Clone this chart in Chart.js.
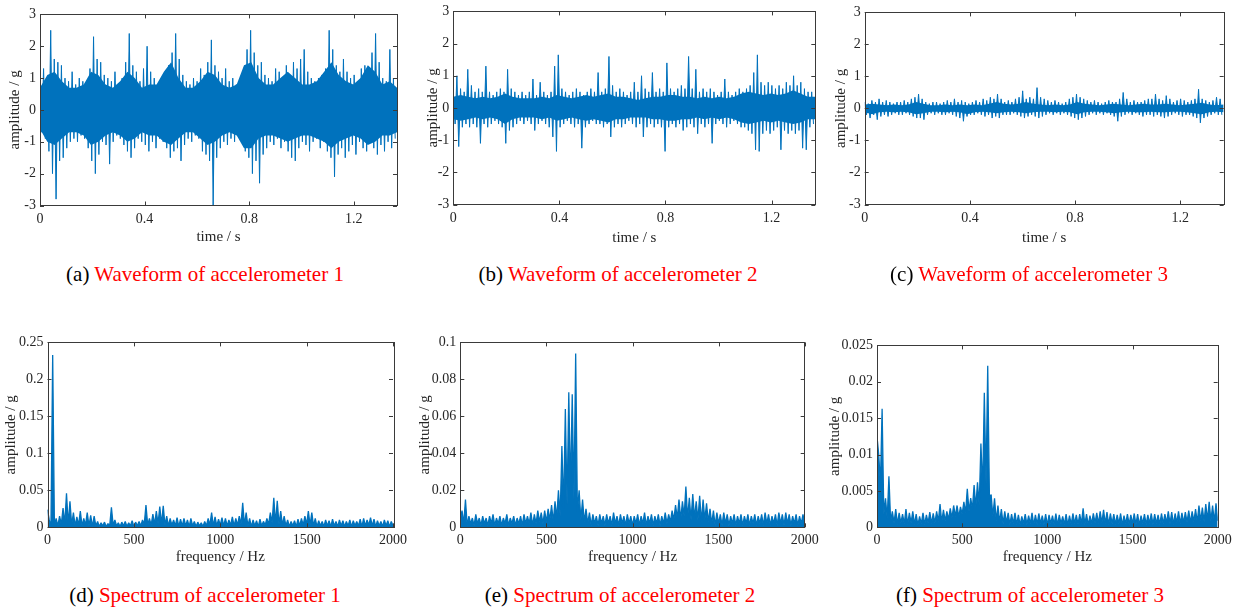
<!DOCTYPE html>
<html>
<head>
<meta charset="utf-8">
<script src="https://cdn.jsdelivr.net/npm/chart.js@4.4.0/dist/chart.umd.min.js"></script>
<style>
html, body { margin: 0; padding: 0; background: #fff; }
body { width: 1242px; height: 612px; overflow: hidden; position: relative; font-family: 'Liberation Serif', serif; }
canvas { position: absolute; }
.cap { position: absolute; font-size: 21px; white-space: nowrap; transform: translate(-50%, -50%); color: #000; }
.cap span { color: #f00; }
</style>
</head>
<body>
<script>
// time axis / frequency axis
const timeMax = 1.365;
const timeTicks = [0, 0.4, 0.8, 1.2];
const ampTicks = [-3, -2, -1, 0, 1, 2, 3];
const freqMax = 2000;
const freqTicks = [0, 500, 1000, 1500, 2000];
const spec1Ticks = [0, 0.05, 0.1, 0.15, 0.2, 0.25];
const spec2Ticks = [0, 0.02, 0.04, 0.06, 0.08, 0.1];
const spec3Ticks = [0, 0.005, 0.01, 0.015, 0.02, 0.025];

// waveform peaks (100 steps over the record)
const wave1Upper = [
  0.8, 1.3, 0.9, 2.5, 1.6, 1.5, 1.4, 1.0, 0.9, 1.2,
  0.8, 1.0, 0.9, 0.8, 1.3, 2.3, 1.6, 1.5, 1.1, 1.0,
  0.9, 1.2, 0.8, 1.0, 1.5, 2.4, 1.4, 1.2, 0.9, 1.3,
  2.0, 1.2, 1.0, 0.8, 0.9, 1.1, 1.4, 1.8, 2.4, 1.6,
  1.1, 0.9, 0.8, 1.0, 0.9, 1.3, 1.1, 1.5, 2.2, 1.4,
  1.2, 1.0, 1.3, 0.9, 1.0, 0.8, 0.9, 1.2, 1.9, 2.5,
  1.8, 1.4, 1.5, 1.1, 1.0, 0.9, 1.3, 1.2, 1.0, 1.4,
  1.1, 1.5, 1.3, 1.6, 1.9, 1.2, 1.0, 0.9, 1.0, 1.1,
  1.3, 2.5, 1.9, 1.4, 1.2, 1.6, 1.2, 1.0, 1.1, 0.9,
  1.3, 1.4, 1.2, 1.8, 2.4, 1.5, 1.0, 0.9, 1.9, 1.0
];
const wave1Lower = [
  -0.7, -0.9, -1.3, -2.0, -2.8, -1.6, -1.5, -1.2, -1.0, -0.9,
  -1.0, -0.8, -0.9, -1.2, -1.6, -2.0, -1.4, -1.0, -1.1, -1.7,
  -1.0, -0.8, -0.9, -1.1, -1.3, -1.5, -1.2, -0.9, -1.0, -1.1,
  -1.3, -1.0, -1.2, -0.9, -1.0, -1.2, -1.5, -1.3, -1.2, -1.6,
  -1.1, -0.9, -1.0, -0.8, -0.9, -1.3, -1.4, -1.6, -3.0, -1.5,
  -1.2, -1.0, -1.1, -0.9, -1.0, -0.8, -1.0, -1.3, -1.5, -2.0,
  -1.6, -2.3, -1.4, -1.2, -1.0, -1.1, -0.9, -1.2, -1.0, -1.3,
  -1.5, -1.6, -1.2, -1.0, -1.1, -1.3, -1.0, -0.9, -1.2, -1.0,
  -1.3, -1.5, -2.1, -1.4, -1.2, -1.5, -1.3, -1.1, -1.4, -1.0,
  -1.2, -1.3, -1.0, -1.2, -1.4, -1.1, -1.3, -1.0, -1.2, -0.9
];
const wave2Upper = [
  0.5, 1.0, 0.6, 0.5, 1.2, 0.7, 0.5, 0.6, 0.5, 1.3,
  0.5, 0.4, 0.5, 0.6, 0.5, 1.2, 0.6, 0.5, 0.4, 0.5,
  0.4, 0.5, 0.9, 0.4, 0.8, 0.5, 0.4, 0.5, 1.3, 1.65,
  0.6, 0.5, 0.4, 0.5, 0.6, 0.5, 0.4, 0.5, 0.6, 0.5,
  1.1, 0.5, 0.6, 1.6, 0.7, 0.5, 0.6, 0.5, 0.4, 0.5,
  0.8, 0.5, 1.0, 0.6, 0.5, 1.1, 0.5, 0.6, 0.5, 1.4,
  0.6, 0.5, 0.6, 0.7, 0.6, 1.6, 0.6, 1.2, 0.5, 0.6,
  0.5, 0.6, 0.5, 0.4, 0.5, 0.9, 0.5, 0.4, 0.5, 0.6,
  0.5, 0.6, 0.7, 1.1, 1.65, 0.8, 0.7, 0.8, 0.7, 0.6,
  0.7, 0.6, 0.8, 0.7, 1.0, 0.7, 0.8, 0.6, 0.5, 0.5
];
const wave2Lower = [
  -0.5, -1.2, -0.6, -0.5, -0.6, -0.5, -0.6, -1.1, -0.5, -0.6,
  -0.5, -0.4, -0.5, -0.6, -1.1, -0.7, -0.6, -0.5, -0.4, -0.5,
  -0.4, -0.5, -0.7, -0.5, -0.4, -0.5, -0.6, -0.9, -1.35, -0.6,
  -0.5, -0.4, -0.5, -0.6, -0.5, -1.25, -0.6, -0.5, -0.4, -0.5,
  -0.5, -0.6, -0.5, -0.9, -0.6, -0.5, -0.6, -0.5, -0.4, -0.5,
  -0.6, -0.5, -0.9, -0.6, -0.5, -0.6, -0.5, -0.6, -1.35, -0.6,
  -0.5, -0.6, -0.5, -0.7, -0.6, -0.5, -0.6, -0.8, -0.5, -0.6,
  -0.5, -1.1, -0.5, -0.4, -0.5, -0.6, -0.5, -0.4, -0.5, -0.6,
  -0.6, -0.7, -0.8, -1.3, -1.35, -0.8, -0.7, -0.8, -0.7, -0.6,
  -1.3, -0.7, -0.8, -0.7, -0.8, -0.7, -1.25, -1.3, -0.6, -0.5
];
const wave3Upper = [
  0.2, 0.15, 0.25, 0.2, 0.3, 0.2, 0.25, 0.2, 0.15, 0.2,
  0.2, 0.25, 0.2, 0.3, 0.35, 0.45, 0.3, 0.2, 0.15, 0.2,
  0.2, 0.15, 0.2, 0.25, 0.2, 0.3, 0.2, 0.25, 0.2, 0.15,
  0.2, 0.25, 0.2, 0.3, 0.25, 0.35, 0.3, 0.45, 0.3, 0.2,
  0.25, 0.2, 0.3, 0.35, 0.55, 0.3, 0.35, 0.3, 0.65, 0.35,
  0.3, 0.25, 0.2, 0.25, 0.2, 0.15, 0.2, 0.3, 0.35, 0.45,
  0.35, 0.3, 0.25, 0.2, 0.25, 0.2, 0.15, 0.2, 0.25, 0.2,
  0.2, 0.3, 0.5, 0.3, 0.2, 0.25, 0.2, 0.2, 0.25, 0.3,
  0.3, 0.45, 0.3, 0.25, 0.4, 0.3, 0.2, 0.25, 0.3, 0.25,
  0.2, 0.25, 0.3, 0.6, 0.3, 0.25, 0.2, 0.25, 0.35, 0.3
];
const wave3Lower = [
  -0.2, -0.3, -0.2, -0.35, -0.25, -0.2, -0.25, -0.2, -0.15, -0.2,
  -0.2, -0.15, -0.2, -0.25, -0.3, -0.3, -0.35, -0.2, -0.15, -0.2,
  -0.15, -0.2, -0.2, -0.15, -0.2, -0.25, -0.3, -0.4, -0.25, -0.2,
  -0.2, -0.15, -0.2, -0.25, -0.2, -0.3, -0.25, -0.3, -0.2, -0.2,
  -0.2, -0.15, -0.2, -0.25, -0.3, -0.25, -0.2, -0.25, -0.3, -0.25,
  -0.2, -0.15, -0.2, -0.15, -0.2, -0.15, -0.2, -0.25, -0.3, -0.35,
  -0.3, -0.25, -0.2, -0.15, -0.2, -0.15, -0.2, -0.15, -0.2, -0.25,
  -0.4, -0.25, -0.2, -0.15, -0.2, -0.15, -0.2, -0.25, -0.2, -0.2,
  -0.25, -0.2, -0.25, -0.3, -0.25, -0.2, -0.15, -0.2, -0.25, -0.2,
  -0.2, -0.25, -0.3, -0.45, -0.3, -0.25, -0.2, -0.15, -0.2, -0.2
];

// dense dark core of each waveform (50 readings across the record)
const core1Upper = [
  0.7, 1.1, 1.2, 0.9, 0.7, 0.7, 0.8, 1.2, 1.1, 0.8,
  0.7, 0.9, 1.2, 1.0, 0.7, 0.8, 0.8, 1.2, 1.5, 1.0,
  0.7, 0.7, 0.9, 1.2, 1.1, 0.8, 0.7, 0.8, 1.4, 1.5,
  1.0, 0.8, 0.8, 1.0, 1.2, 1.0, 0.8, 0.8, 0.9, 1.2,
  1.5, 1.1, 0.9, 0.8, 1.0, 1.4, 1.2, 0.8, 0.9, 0.7
];
const core1Lower = [
  -0.6, -1.0, -1.1, -0.9, -0.7, -0.7, -0.8, -1.1, -1.0, -0.8,
  -0.7, -0.8, -1.0, -0.9, -0.7, -0.8, -0.8, -1.0, -1.1, -0.9,
  -0.7, -0.7, -0.9, -1.1, -1.0, -0.8, -0.7, -0.8, -1.2, -1.2,
  -0.9, -0.8, -0.8, -0.9, -1.0, -0.9, -0.8, -0.8, -0.9, -1.0,
  -1.2, -1.0, -0.9, -0.8, -0.9, -1.1, -1.0, -0.8, -0.8, -0.7
];
const core2Upper = [
  0.35, 0.4, 0.35, 0.3, 0.35, 0.3, 0.35, 0.45, 0.35, 0.3,
  0.3, 0.3, 0.35, 0.3, 0.4, 0.35, 0.3, 0.35, 0.4, 0.35,
  0.4, 0.45, 0.35, 0.35, 0.3, 0.25, 0.3, 0.35, 0.35, 0.4,
  0.4, 0.35, 0.35, 0.3, 0.35, 0.3, 0.35, 0.3, 0.35, 0.45,
  0.5, 0.45, 0.4, 0.45, 0.4, 0.45, 0.55, 0.45, 0.35, 0.35
];
const core2Lower = [
  -0.35, -0.4, -0.35, -0.3, -0.35, -0.3, -0.35, -0.5, -0.35, -0.3,
  -0.3, -0.3, -0.35, -0.3, -0.4, -0.35, -0.3, -0.35, -0.4, -0.35,
  -0.4, -0.45, -0.35, -0.35, -0.3, -0.3, -0.3, -0.35, -0.35, -0.4,
  -0.4, -0.35, -0.35, -0.3, -0.35, -0.3, -0.35, -0.3, -0.35, -0.45,
  -0.5, -0.45, -0.4, -0.45, -0.4, -0.45, -0.5, -0.45, -0.35, -0.35
];
const core3Upper = [
  0.12, 0.15, 0.12, 0.1, 0.12, 0.1, 0.12, 0.2, 0.15, 0.1,
  0.1, 0.12, 0.1, 0.12, 0.1, 0.12, 0.1, 0.15, 0.2, 0.15,
  0.12, 0.15, 0.2, 0.15, 0.12, 0.1, 0.12, 0.1, 0.12, 0.2,
  0.15, 0.12, 0.1, 0.12, 0.15, 0.12, 0.1, 0.12, 0.15, 0.12,
  0.12, 0.15, 0.12, 0.1, 0.12, 0.15, 0.18, 0.12, 0.1, 0.12
];
const core3Lower = [
  -0.12, -0.18, -0.12, -0.1, -0.12, -0.1, -0.12, -0.18, -0.15, -0.1,
  -0.1, -0.12, -0.1, -0.12, -0.18, -0.12, -0.1, -0.12, -0.15, -0.12,
  -0.1, -0.12, -0.15, -0.12, -0.1, -0.1, -0.12, -0.1, -0.12, -0.18,
  -0.12, -0.1, -0.1, -0.12, -0.15, -0.12, -0.1, -0.12, -0.12, -0.1,
  -0.12, -0.12, -0.1, -0.1, -0.12, -0.15, -0.18, -0.12, -0.1, -0.12
];

// spectrum peaks (at 10, 30, ... 1990 Hz) and floor (at 0, 20, ... 2000 Hz)
const spec1Peaks = [
  0.010, 0.233, 0.012, 0.015, 0.026, 0.046, 0.035, 0.020, 0.014, 0.022,
  0.012, 0.020, 0.016, 0.015, 0.008, 0.006, 0.007, 0.005, 0.027, 0.010,
  0.006, 0.007, 0.008, 0.006, 0.009, 0.007, 0.008, 0.010, 0.030, 0.012,
  0.018, 0.022, 0.028, 0.029, 0.015, 0.012, 0.010, 0.013, 0.011, 0.012,
  0.010, 0.012, 0.008, 0.007, 0.006, 0.008, 0.012, 0.020, 0.014, 0.011,
  0.013, 0.012, 0.010, 0.014, 0.012, 0.015, 0.033, 0.020, 0.012, 0.010,
  0.009, 0.011, 0.008, 0.012, 0.020, 0.040, 0.036, 0.022, 0.015, 0.010,
  0.008, 0.009, 0.011, 0.012, 0.015, 0.022, 0.020, 0.012, 0.009, 0.008,
  0.010, 0.009, 0.011, 0.008, 0.010, 0.009, 0.008, 0.010, 0.009, 0.008,
  0.011, 0.012, 0.010, 0.013, 0.011, 0.009, 0.008, 0.010, 0.009, 0.008
];
const spec1Floor = [
  0.024, 0.001, 0.003, 0.002, 0.004, 0.005, 0.004, 0.003, 0.002, 0.003,
  0.002, 0.003, 0.002, 0.001, 0.002, 0.001, 0.002, 0.001, 0.002, 0.003,
  0.002, 0.001, 0.002, 0.001, 0.002, 0.001, 0.002, 0.002, 0.004, 0.003,
  0.003, 0.004, 0.005, 0.004, 0.003, 0.002, 0.003, 0.002, 0.001, 0.002,
  0.002, 0.001, 0.002, 0.001, 0.002, 0.001, 0.002, 0.003, 0.002, 0.002,
  0.003, 0.002, 0.002, 0.003, 0.002, 0.003, 0.004, 0.003, 0.002, 0.001,
  0.002, 0.001, 0.002, 0.003, 0.004, 0.006, 0.005, 0.004, 0.003, 0.002,
  0.001, 0.002, 0.001, 0.002, 0.003, 0.004, 0.003, 0.002, 0.001, 0.002,
  0.001, 0.002, 0.001, 0.002, 0.001, 0.002, 0.001, 0.002, 0.001, 0.002,
  0.002, 0.001, 0.002, 0.003, 0.002, 0.001, 0.002, 0.001, 0.002, 0.001,
  0.002
];
const spec2Peaks = [
  0.009, 0.015, 0.006, 0.005, 0.007, 0.005, 0.006, 0.005, 0.006, 0.007,
  0.005, 0.006, 0.005, 0.007, 0.005, 0.006, 0.005, 0.006, 0.007, 0.006,
  0.008, 0.007, 0.009, 0.008, 0.009, 0.010, 0.012, 0.014, 0.020, 0.044,
  0.064, 0.073, 0.072, 0.094, 0.020, 0.015, 0.010, 0.008, 0.007, 0.006,
  0.007, 0.006, 0.007, 0.006, 0.008, 0.006, 0.007, 0.006, 0.007, 0.006,
  0.006, 0.007, 0.006, 0.008, 0.006, 0.007, 0.006, 0.007, 0.006, 0.008,
  0.007, 0.009, 0.012, 0.015, 0.014, 0.022, 0.016, 0.018, 0.014, 0.017,
  0.015, 0.013, 0.010, 0.009, 0.008, 0.007, 0.008, 0.007, 0.006, 0.007,
  0.006, 0.007, 0.006, 0.007, 0.006, 0.007, 0.006, 0.007, 0.008, 0.007,
  0.006, 0.007, 0.008, 0.007, 0.008, 0.007, 0.006, 0.007, 0.006, 0.007
];
const spec2Floor = [
  0.004, 0.002, 0.001, 0.002, 0.001, 0.002, 0.001, 0.002, 0.001, 0.002,
  0.001, 0.002, 0.001, 0.002, 0.001, 0.002, 0.001, 0.002, 0.001, 0.002,
  0.002, 0.001, 0.002, 0.003, 0.002, 0.003, 0.004, 0.003, 0.005, 0.006,
  0.010, 0.012, 0.020, 0.015, 0.008, 0.004, 0.003, 0.002, 0.001, 0.002,
  0.001, 0.002, 0.001, 0.002, 0.001, 0.002, 0.001, 0.002, 0.001, 0.002,
  0.001, 0.002, 0.001, 0.002, 0.001, 0.002, 0.001, 0.002, 0.001, 0.002,
  0.002, 0.003, 0.004, 0.005, 0.004, 0.006, 0.005, 0.004, 0.005, 0.004,
  0.003, 0.004, 0.003, 0.002, 0.001, 0.002, 0.001, 0.002, 0.001, 0.002,
  0.001, 0.002, 0.001, 0.002, 0.001, 0.002, 0.001, 0.002, 0.001, 0.002,
  0.001, 0.002, 0.001, 0.002, 0.001, 0.002, 0.001, 0.002, 0.001, 0.002,
  0.002
];
const spec3Peaks = [
  0.010, 0.0163, 0.004, 0.007, 0.0022, 0.0025, 0.002, 0.0018, 0.0025, 0.002,
  0.0022, 0.0018, 0.0015, 0.002, 0.0017, 0.0021, 0.0019, 0.0022, 0.0032, 0.0024,
  0.0022, 0.0026, 0.003, 0.003, 0.0028, 0.0035, 0.0053, 0.004, 0.0058, 0.0062,
  0.0115, 0.0185, 0.0222, 0.0045, 0.004, 0.003, 0.0025, 0.0022, 0.002, 0.0018,
  0.002, 0.0017, 0.0015, 0.0018, 0.0016, 0.002, 0.0017, 0.0019, 0.0016, 0.0018,
  0.0017, 0.0016, 0.0019, 0.0017, 0.0015, 0.0018, 0.0016, 0.0019, 0.0017, 0.0018,
  0.0026, 0.0018, 0.0016, 0.0019, 0.002, 0.0022, 0.0024, 0.0021, 0.0019, 0.0018,
  0.0017, 0.0019, 0.0016, 0.0018, 0.0017, 0.0019, 0.0018, 0.0016, 0.0018, 0.0017,
  0.0019, 0.0018, 0.0017, 0.0019, 0.0018, 0.0022, 0.0021, 0.0019, 0.0022, 0.002,
  0.0021, 0.0023, 0.0022, 0.0025, 0.003, 0.0027, 0.0032, 0.0035, 0.003, 0.0033
];
const spec3Floor = [
  0.0125, 0.006, 0.0018, 0.0012, 0.0008, 0.0006, 0.0004, 0.0006, 0.0005, 0.0004,
  0.0006, 0.0004, 0.0003, 0.0005, 0.0004, 0.0006, 0.0005, 0.0006, 0.0008, 0.0007,
  0.0009, 0.0011, 0.0013, 0.0015, 0.0014, 0.0018, 0.002, 0.0022, 0.0025, 0.0028,
  0.003, 0.005, 0.006, 0.004, 0.0015, 0.0009, 0.0007, 0.0005, 0.0006, 0.0004,
  0.0005, 0.0004, 0.0003, 0.0005, 0.0004, 0.0005, 0.0003, 0.0004, 0.0005, 0.0004,
  0.0003, 0.0005, 0.0004, 0.0003, 0.0005, 0.0004, 0.0003, 0.0004, 0.0005, 0.0004,
  0.0005, 0.0004, 0.0003, 0.0005, 0.0006, 0.0005, 0.0006, 0.0005, 0.0004, 0.0005,
  0.0004, 0.0005, 0.0003, 0.0005, 0.0004, 0.0005, 0.0004, 0.0003, 0.0005, 0.0004,
  0.0005, 0.0004, 0.0005, 0.0004, 0.0005, 0.0006, 0.0005, 0.0004, 0.0006, 0.0005,
  0.0006, 0.0007, 0.0006, 0.0008, 0.0007, 0.0009, 0.0008, 0.001, 0.0009, 0.0008,
  0.0009
];

const FONT = "'Liberation Serif', 'Times New Roman', serif";
const LINE = '#0072BD';
const AXIS = '#262626';

// alternate upper/lower readings along the axis
function zigzag(up, low, xMax) {
  const step = xMax / up.length;
  const pts = [];
  for (let i = 0; i < up.length; i++) {
    pts.push({ x: i * step, y: up[i] });
    pts.push({ x: (i + 0.5) * step, y: low[i] });
  }
  return pts;
}

function spectrum(peaks, floor, fMax) {
  const step = fMax / peaks.length;
  const pts = [];
  for (let i = 0; i < floor.length; i++) {
    pts.push({ x: i * step, y: floor[i] });
    if (i < peaks.length) pts.push({ x: (i + 0.5) * step, y: peaks[i] });
  }
  return pts;
}

function envelope(vals, xMax) {
  const step = xMax / (vals.length - 1);
  return vals.map((v, i) => ({ x: i * step, y: v }));
}

// MATLAB-like box with inward ticks on all four sides
const boxPlugin = {
  id: 'boxPlugin',
  afterDatasetsDraw(chart) {
    const { ctx, chartArea: a, scales } = chart;
    const len = 4;
    ctx.save();
    ctx.strokeStyle = '#3a3a3a';
    ctx.lineWidth = 1;
    ctx.beginPath();
    scales.x.ticks.forEach(t => {
      const px = Math.round(scales.x.getPixelForValue(t.value)) + 0.5;
      ctx.moveTo(px, a.bottom); ctx.lineTo(px, a.bottom - len);
      ctx.moveTo(px, a.top); ctx.lineTo(px, a.top + len);
    });
    scales.y.ticks.forEach(t => {
      const py = Math.round(scales.y.getPixelForValue(t.value)) + 0.5;
      ctx.moveTo(a.left, py); ctx.lineTo(a.left + len, py);
      ctx.moveTo(a.right, py); ctx.lineTo(a.right - len, py);
    });
    ctx.stroke();
    ctx.strokeRect(Math.round(a.left) + 0.5, Math.round(a.top) + 0.5,
      Math.round(a.right - a.left), Math.round(a.bottom - a.top));
    ctx.restore();
  }
};

const panels = [
  { box: [40, 12, 397, 205.5], yTitleX: 15, xTitleY: 237,
    points: zigzag(wave1Upper, wave1Lower, timeMax), core: [core1Upper, core1Lower],
    xMax: timeMax, xTicks: timeTicks, yMin: -3, yMax: 3, yTicks: ampTicks, xTitle: 'time / s' },
  { box: [453.3, 9.5, 815.3, 204.5], yTitleX: 433.3, xTitleY: 237.3,
    points: zigzag(wave2Upper, wave2Lower, timeMax), core: [core2Upper, core2Lower],
    xMax: timeMax, xTicks: timeTicks, yMin: -3, yMax: 3, yTicks: ampTicks, xTitle: 'time / s' },
  { box: [864.7, 10.5, 1223.7, 204.5], yTitleX: 841.7, xTitleY: 237.3,
    points: zigzag(wave3Upper, wave3Lower, timeMax), core: [core3Upper, core3Lower],
    xMax: timeMax, xTicks: timeTicks, yMin: -3, yMax: 3, yTicks: ampTicks, xTitle: 'time / s' },
  { box: [47.5, 340.5, 393, 527.3], yTitleX: 11.7, xTitleY: 556.7,
    points: spectrum(spec1Peaks, spec1Floor, freqMax), xMax: freqMax, xTicks: freqTicks,
    yMin: 0, yMax: 0.25, yTicks: spec1Ticks, xTitle: 'frequency / Hz' },
  { box: [460.3, 340.5, 804.7, 527.3], yTitleX: 425, xTitleY: 556.7,
    points: spectrum(spec2Peaks, spec2Floor, freqMax), xMax: freqMax, xTicks: freqTicks,
    yMin: 0, yMax: 0.1, yTicks: spec2Ticks, xTitle: 'frequency / Hz' },
  { box: [877, 343.3, 1217.7, 527.3], yTitleX: 835, xTitleY: 556.7,
    points: spectrum(spec3Peaks, spec3Floor, freqMax), xMax: freqMax, xTicks: freqTicks,
    yMin: 0, yMax: 0.025, yTicks: spec3Ticks, xTitle: 'frequency / Hz' }
];

const captions = [
  { x: 205, y: 274, tag: '(a)', text: 'Waveform of accelerometer 1' },
  { x: 618, y: 274, tag: '(b)', text: 'Waveform of accelerometer 2' },
  { x: 1029, y: 274, tag: '(c)', text: 'Waveform of accelerometer 3' },
  { x: 205, y: 595, tag: '(d)', text: 'Spectrum of accelerometer 1' },
  { x: 620, y: 595, tag: '(e)', text: 'Spectrum of accelerometer 2' },
  { x: 1030, y: 595, tag: '(f)', text: 'Spectrum of accelerometer 3' }
];

function makePanel(p) {
  const [L, T, R, B] = p.box;
  const half = 9; // title line height / 2
  const cl = Math.floor(p.yTitleX - half);
  const ct = Math.floor(T - 10);
  const w = Math.ceil(R + 20 - cl);
  const h = Math.ceil(p.xTitleY + half - ct);
  const padTop = T - ct;
  const padRight = w - (R - cl);
  const yW = L - cl;
  const xH = h - padTop - (B - T);

  const canvas = document.createElement('canvas');
  canvas.width = w;
  canvas.height = h;
  canvas.style.left = cl + 'px';
  canvas.style.top = ct + 'px';
  canvas.style.width = w + 'px';
  canvas.style.height = h + 'px';
  document.body.appendChild(canvas);

  const tickFont = { family: FONT, size: 14 };
  const titleFont = { family: FONT, size: 15 };

  const datasets = [];
  if (p.core) {
    datasets.push({ data: envelope(p.core[0], p.xMax), borderWidth: 0, borderColor: LINE,
                    pointRadius: 0, tension: 0, fill: false });
    datasets.push({ data: envelope(p.core[1], p.xMax), borderWidth: 0, borderColor: LINE,
                    backgroundColor: LINE, pointRadius: 0, tension: 0, fill: '-1' });
  }
  datasets.push({
    data: p.points,
    borderColor: LINE,
    backgroundColor: LINE,
    borderWidth: p.core ? 1 : 1.3,
    borderJoinStyle: 'bevel',
    pointRadius: 0,
    tension: 0,
    fill: 'origin'
  });

  new Chart(canvas, {
    type: 'line',
    data: { datasets },
    options: {
      responsive: false,
      animation: false,
      devicePixelRatio: 1,
      layout: { padding: { top: padTop, right: padRight, left: 0, bottom: 0 } },
      plugins: { legend: { display: false }, tooltip: { enabled: false } },
      scales: {
        x: {
          type: 'linear',
          min: 0,
          max: p.xMax,
          grid: { display: false, drawTicks: false },
          border: { display: false },
          afterBuildTicks: s => { s.ticks = p.xTicks.map(v => ({ value: v })); },
          afterFit: s => { s.height = xH; },
          ticks: { autoSkip: false, maxRotation: 0, padding: 5, color: AXIS, font: tickFont,
                   callback: v => String(v) },
          title: { display: true, text: p.xTitle, padding: 0, color: AXIS, font: titleFont }
        },
        y: {
          type: 'linear',
          min: p.yMin,
          max: p.yMax,
          grid: { display: false, drawTicks: false },
          border: { display: false },
          afterBuildTicks: s => { s.ticks = p.yTicks.map(v => ({ value: v })); },
          afterFit: s => { s.width = yW; },
          ticks: { autoSkip: false, padding: 4, color: AXIS, font: tickFont,
                   callback: v => String(v) },
          title: { display: true, text: 'amplitude / g', padding: 0, color: AXIS, font: titleFont }
        }
      }
    },
    plugins: [boxPlugin]
  });
}

panels.forEach(makePanel);

captions.forEach(c => {
  const div = document.createElement('div');
  div.className = 'cap';
  div.style.left = c.x + 'px';
  div.style.top = c.y + 'px';
  div.innerHTML = c.tag + ' <span>' + c.text + '</span>';
  document.body.appendChild(div);
});
</script>
</body>
</html>
